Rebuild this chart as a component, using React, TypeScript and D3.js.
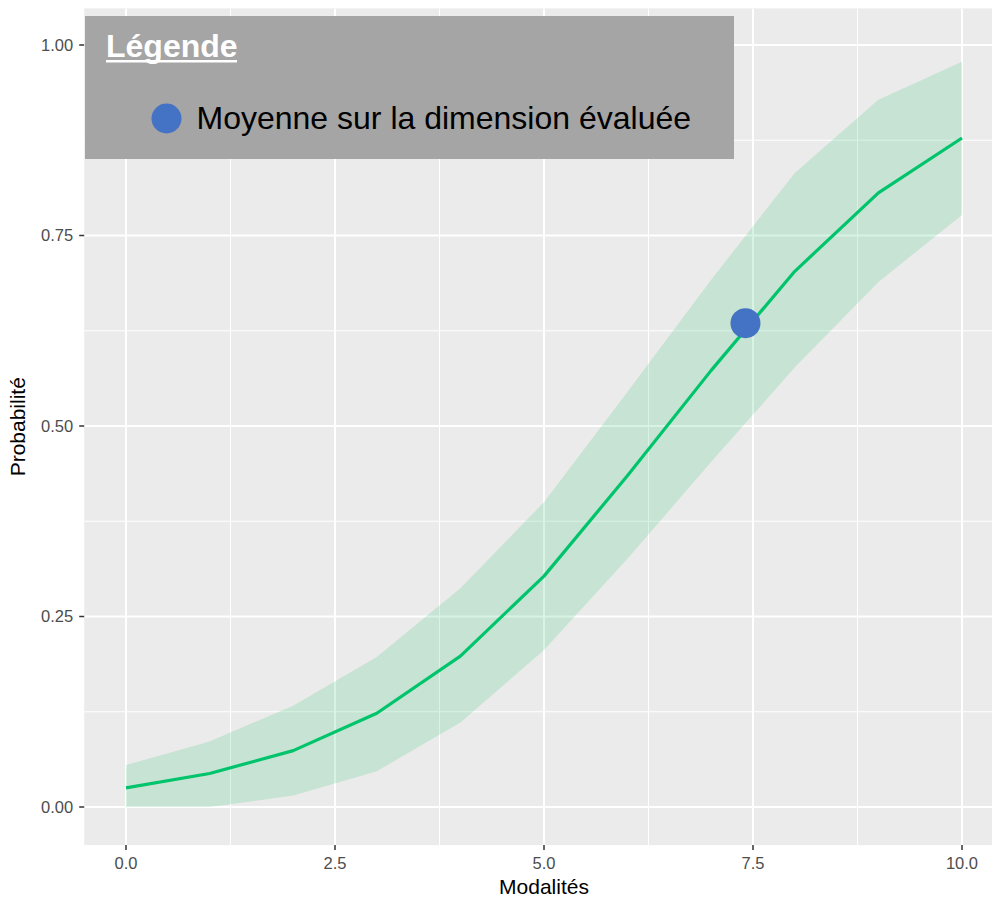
import React from "react";
import * as d3 from "d3";

const modalites = [0, 1, 2, 3, 4, 5, 6, 7, 8, 9, 10];
const fitValues = [0.025, 0.044, 0.074, 0.123, 0.198, 0.303, 0.435, 0.573, 0.703, 0.806, 0.878];
const upperValues = [0.055, 0.086, 0.133, 0.197, 0.287, 0.4, 0.545, 0.692, 0.832, 0.928, 0.978];
const lowerValues = [0.0, 0.0, 0.015, 0.047, 0.111, 0.206, 0.326, 0.453, 0.577, 0.689, 0.777];
const meanPoint = { x: 7.41, y: 0.635 };
const xTicks = [0, 2.5, 5, 7.5, 10];
const xMinor = [1.25, 3.75, 6.25, 8.75];
const yTicks = [0, 0.25, 0.5, 0.75, 1];
const yMinor = [0.125, 0.375, 0.625, 0.875];
const xTickLabels = ["0.0", "2.5", "5.0", "7.5", "10.0"];
const yTickLabels = ["0.00", "0.25", "0.50", "0.75", "1.00"];
const legendTitle = "Légende";
const legendLabel = "Moyenne sur la dimension évaluée";

const W = 992;
const H = 897;

export default function App() {
  const x = d3.scaleLinear().domain([0, 10]).range([126, 962]);
  const y = d3.scaleLinear().domain([0, 1]).range([807, 45]);
  const px0 = x(-0.5);
  const px1 = x(10.5);
  const py0 = y(1.048);
  const py1 = y(-0.05);

  const rows = modalites.map((m, i) => ({ m, fit: fitValues[i], lo: lowerValues[i], hi: upperValues[i] }));
  const area = d3
    .area<any>()
    .x((d) => x(d.m))
    .y0((d) => y(d.lo))
    .y1((d) => y(d.hi));
  const line = d3
    .line<any>()
    .x((d) => x(d.m))
    .y((d) => y(d.fit));

  const font = "'Liberation Sans', Arial, Helvetica, sans-serif";

  return (
    <svg
      width={W}
      height={H}
      style={{ position: "absolute", left: 0, top: 0, background: "#fff" }}
      fontFamily={font}
    >
      <defs>
        <clipPath id="panel">
          <rect x={px0} y={py0} width={px1 - px0} height={py1 - py0} />
        </clipPath>
      </defs>
      <rect x={px0} y={py0} width={px1 - px0} height={py1 - py0} fill="#ebebeb" />
      <g clipPath="url(#panel)">
        {yMinor.map((v) => (
          <line key={"ym" + v} x1={px0} x2={px1} y1={y(v)} y2={y(v)} stroke="#fff" strokeWidth={1} />
        ))}
        {xMinor.map((v) => (
          <line key={"xm" + v} x1={x(v)} x2={x(v)} y1={py0} y2={py1} stroke="#fff" strokeWidth={1} />
        ))}
        {yTicks.map((v) => (
          <line key={"yM" + v} x1={px0} x2={px1} y1={y(v)} y2={y(v)} stroke="#fff" strokeWidth={2} />
        ))}
        {xTicks.map((v) => (
          <line key={"xM" + v} x1={x(v)} x2={x(v)} y1={py0} y2={py1} stroke="#fff" strokeWidth={2} />
        ))}
        <path d={area(rows) || ""} fill="rgb(50,195,115)" fillOpacity={0.2} />
        <path d={line(rows) || ""} fill="none" stroke="#00c46b" strokeWidth={3.2} strokeLinejoin="round" />
        <circle cx={x(meanPoint.x)} cy={y(meanPoint.y)} r={15} fill="#4472c4" />
      </g>

      {/* Y axis */}
      {yTicks.map((v, i) => (
        <g key={"yt" + v}>
          <line x1={px0 - 5} x2={px0} y1={y(v)} y2={y(v)} stroke="#333" strokeWidth={1.5} />
          <text x={px0 - 11} y={y(v)} dy="0.35em" textAnchor="end" fontSize={16.5} fill="#4d4d4d">
            {yTickLabels[i]}
          </text>
        </g>
      ))}
      {/* X axis */}
      {xTicks.map((v, i) => (
        <g key={"xt" + v}>
          <line x1={x(v)} x2={x(v)} y1={py1} y2={py1 + 5} stroke="#333" strokeWidth={1.5} />
          <text x={x(v)} y={869} textAnchor="middle" fontSize={16.5} fill="#4d4d4d">
            {xTickLabels[i]}
          </text>
        </g>
      ))}
      <text x={(px0 + px1) / 2} y={894} textAnchor="middle" fontSize={21} fill="#000">
        Modalités
      </text>
      <text
        transform={`translate(25, ${(py0 + py1) / 2}) rotate(-90)`}
        textAnchor="middle"
        fontSize={21}
        fill="#000"
      >
        Probabilité
      </text>

      {/* Legend box */}
      <rect x={85} y={16} width={649} height={143} fill="#a5a5a5" />
      <text x={106} y={57} fontSize={32} fontWeight="bold" fill="#fff">
        {legendTitle}
      </text>
      <rect x={106} y={60} width={131} height={2.5} fill="#fff" />
      <circle cx={166.5} cy={118.5} r={15} fill="#4472c4" />
      <text x={196.5} y={128.5} fontSize={32} fill="#000">
        {legendLabel}
      </text>
    </svg>
  );
}
